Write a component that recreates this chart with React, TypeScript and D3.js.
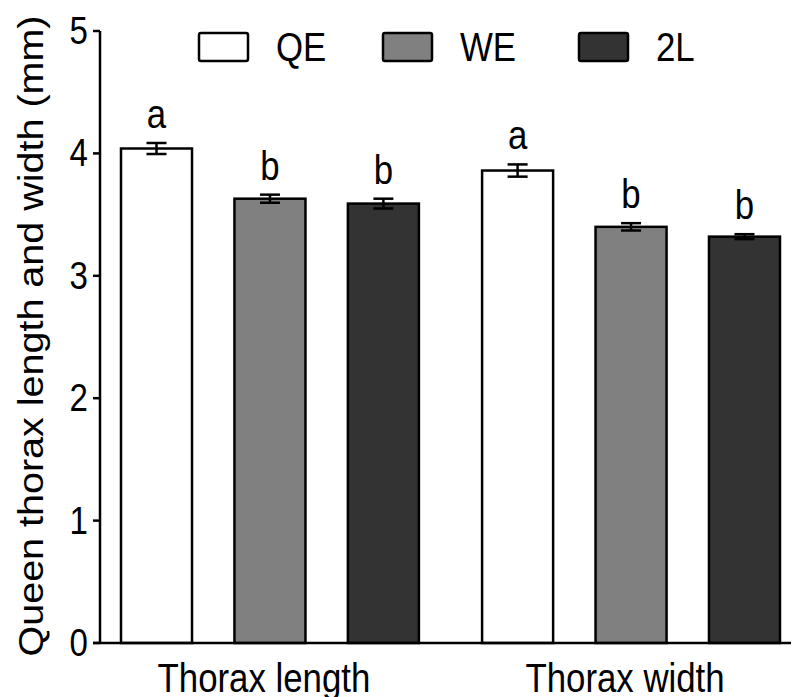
import React, { useEffect, useRef } from 'react';
import * as d3 from 'd3';

const groups = ['Thorax length', 'Thorax width'];
const series = ['QE', 'WE', '2L'];

const qeMeans = [4.04, 3.86];
const weMeans = [3.63, 3.40];
const twoLMeans = [3.59, 3.32];

const qeErr = [0.045, 0.05];
const weErr = [0.033, 0.03];
const twoLErr = [0.04, 0.02];

const qeLetters = ['a', 'a'];
const weLetters = ['b', 'b'];
const twoLLetters = ['b', 'b'];

const yTicks = [0, 1, 2, 3, 4, 5];

const W = 792;
const H = 697;
const FONT = '"Liberation Sans", Arial, sans-serif';
const SQUEEZE = 0.87; // the original text is a bit narrow

const App: React.FC = () => {
  const svgRef = useRef<SVGSVGElement>(null);

  useEffect(() => {
    if (!svgRef.current) return;
    const svg = d3.select(svgRef.current);
    svg.selectAll('*').remove();

    const colorMap: Record<string, string> = {
      QE: '#ffffff',
      WE: '#808080',
      '2L': '#333333',
    };

    const meansBySeries = [qeMeans, weMeans, twoLMeans];
    const errBySeries = [qeErr, weErr, twoLErr];
    const lettersBySeries = [qeLetters, weLetters, twoLLetters];

    const rows = groups.flatMap((g, gi) =>
      series.map((s, si) => ({
        group: g,
        key: s,
        mean: meansBySeries[si][gi],
        err: errBySeries[si][gi],
        letter: lettersBySeries[si][gi],
      }))
    );

    const y = d3.scaleLinear().domain([0, 5]).range([643, 31]);
    const x0 = d3.scaleBand<string>().domain(groups).range([121, 780]).paddingInner(0.175).paddingOuter(0);
    const x1 = d3.scaleBand<string>().domain(series).range([0, x0.bandwidth()]).paddingInner(0.374).paddingOuter(0);

    const axisX = 100;

    // bars
    const bars = svg.append('g')
      .selectAll('g')
      .data(rows)
      .enter()
      .append('g')
      .attr('transform', d => `translate(${x0(d.group)! + x1(d.key)!},0)`);

    bars.append('rect')
      .attr('x', 0)
      .attr('y', d => y(d.mean))
      .attr('width', x1.bandwidth())
      .attr('height', d => y(0) - y(d.mean))
      .attr('fill', d => colorMap[d.key])
      .attr('stroke', '#000')
      .attr('stroke-width', 2.5);

    // error bars
    const cap = 10;
    const cx = x1.bandwidth() / 2;
    bars.append('line')
      .attr('x1', cx).attr('x2', cx)
      .attr('y1', d => y(d.mean + d.err)).attr('y2', d => y(d.mean - d.err))
      .attr('stroke', '#000').attr('stroke-width', 2.5);
    bars.append('line')
      .attr('x1', cx - cap).attr('x2', cx + cap)
      .attr('y1', d => y(d.mean + d.err)).attr('y2', d => y(d.mean + d.err))
      .attr('stroke', '#000').attr('stroke-width', 2.5);
    bars.append('line')
      .attr('x1', cx - cap).attr('x2', cx + cap)
      .attr('y1', d => y(d.mean - d.err)).attr('y2', d => y(d.mean - d.err))
      .attr('stroke', '#000').attr('stroke-width', 2.5);

    // significance letters
    bars.append('text')
      .attr('transform', d => `translate(${cx},${y(d.mean + d.err) - 15}) scale(${SQUEEZE},1)`)
      .attr('text-anchor', 'middle')
      .attr('font-family', FONT)
      .attr('font-size', '40px')
      .attr('fill', '#000')
      .text(d => d.letter);

    // y axis
    svg.append('line')
      .attr('x1', axisX).attr('x2', axisX)
      .attr('y1', y(5)).attr('y2', y(0))
      .attr('stroke', '#000').attr('stroke-width', 2.5);

    const ticks = svg.append('g').selectAll('g').data(yTicks).enter().append('g');
    ticks.append('line')
      .attr('x1', axisX - 7).attr('x2', axisX)
      .attr('y1', d => y(d)).attr('y2', d => y(d))
      .attr('stroke', '#000').attr('stroke-width', 2.5);
    ticks.append('text')
      .attr('transform', d => `translate(${axisX - 12},${y(d) + 13}) scale(${SQUEEZE},1)`)
      .attr('text-anchor', 'end')
      .attr('font-family', FONT)
      .attr('font-size', '38px')
      .attr('fill', '#000')
      .text(d => String(d));

    // x axis
    svg.append('line')
      .attr('x1', axisX - 7).attr('x2', 791)
      .attr('y1', y(0)).attr('y2', y(0))
      .attr('stroke', '#000').attr('stroke-width', 2.5);

    svg.append('g').selectAll('text').data(groups).enter().append('text')
      .attr('transform', d => `translate(${x0(d)! + x0.bandwidth() / 2 - 6},692) scale(${SQUEEZE},1)`)
      .attr('text-anchor', 'middle')
      .attr('font-family', FONT)
      .attr('font-size', '40px')
      .attr('fill', '#000')
      .text(d => d);

    // y title
    svg.append('text')
      .attr('transform', `translate(43,336) rotate(-90) scale(1,${SQUEEZE})`)
      .attr('text-anchor', 'middle')
      .attr('font-family', FONT)
      .attr('font-size', '39.5px')
      .attr('fill', '#000')
      .text('Queen thorax length and width (mm)');

    // legend
    const legendX = [199, 383, 579];
    const legend = svg.append('g').selectAll('g').data(series).enter().append('g')
      .attr('transform', (d, i) => `translate(${legendX[i]},33)`);
    legend.append('rect')
      .attr('width', 49).attr('height', 28).attr('rx', 2)
      .attr('fill', d => colorMap[d])
      .attr('stroke', '#000').attr('stroke-width', 2.5);
    legend.append('text')
      .attr('transform', `translate(77,28) scale(${SQUEEZE},1)`)
      .attr('font-family', FONT)
      .attr('font-size', '40px')
      .attr('fill', '#000')
      .text(d => d);
  }, []);

  return (
    <div style={{ position: 'absolute', left: 0, top: 0, background: '#fff' }}>
      <svg ref={svgRef} width={W} height={H} style={{ display: 'block' }} />
    </div>
  );
};

export default App;
